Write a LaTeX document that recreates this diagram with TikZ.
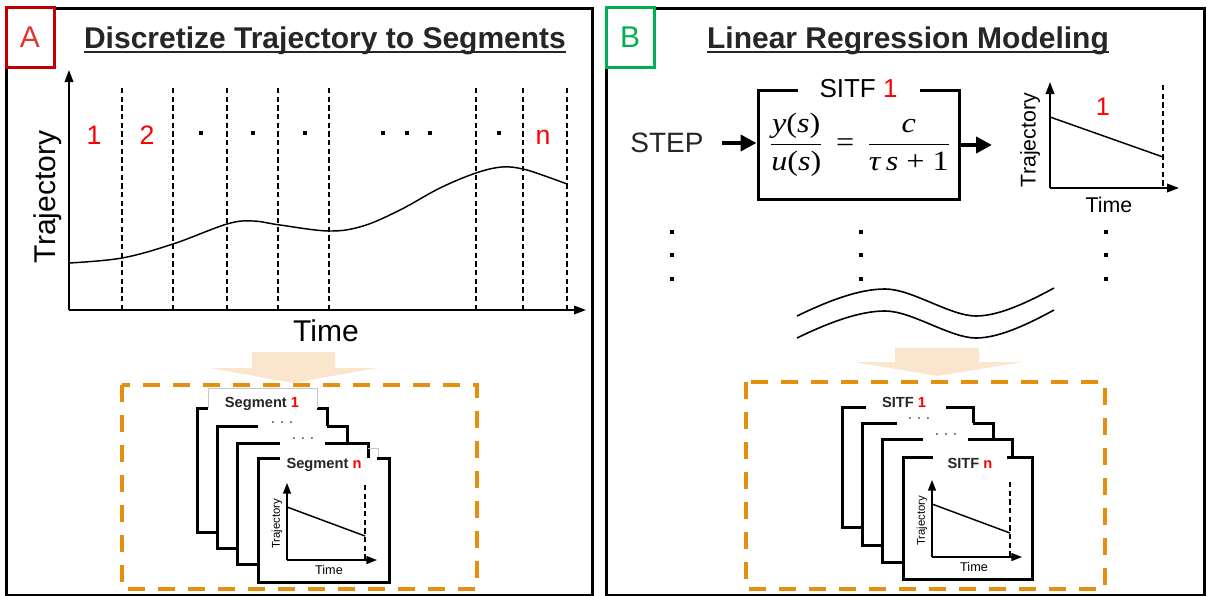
\documentclass[tikz,border=0pt]{standalone}
\usepackage{fontspec}
\usepackage{graphicx}
\setmainfont{Liberation Sans}
\newfontfamily\eqfont{Liberation Serif}
\usetikzlibrary{arrows.meta}

\definecolor{titlegray}{RGB}{38,38,38}
\definecolor{tagred}{RGB}{192,0,0}
\definecolor{tagredtext}{RGB}{222,55,55}
\definecolor{numred}{RGB}{255,0,0}
\definecolor{taggreen}{RGB}{0,176,80}
\definecolor{peach}{RGB}{252,229,205}
\definecolor{dashorange}{RGB}{230,143,15}

\newcommand\fsz[1]{\fontsize{#1}{#1}\selectfont}
% italic variable in the serif equation face
\newcommand\ev[1]{{\itshape #1}}
% white card with a thick border, open between #5 and #6 on its top edge
\newcommand\stackcard[6]{%
  \fill[white] (#1,#2) rectangle (#3,#4);
  \draw[cardedge] (#6,#2) -- (#3,#2) -- (#3,#4) -- (#1,#4) -- (#1,#2) -- (#5,#2);}
% small square dot
\newcommand\sqdot[2]{\fill (#1,#2) ++(-2,-2) rectangle ++(4,4);}
% small trajectory plot drawn inside the front card; #1 prefix, #2 origin
\newcommand\minichart[2]{%
  \begin{scope}[shift={#2}]
    \coordinate (#1o) at (0,0);
    \draw[minaxis] (#1o) -- (0,-77);
    \draw[minaxis] (#1o) -- (90,0);
    \draw[segline] (78,-75) -- (78,0);
    \draw[trendline] (0,-53) -- (78,-24);
    \node[font=\fsz{8.5pt}, rotate=90, inner sep=0pt] (#1traj) at (-10,-36) {Trajectory};
    \node[font=\fsz{9.5pt}, inner sep=0pt] (#1time) at (42,10) {Time};
  \end{scope}}

\begin{document}
\begin{tikzpicture}[x=0.75pt, y=-0.75pt,
  panel/.style={draw=black, line width=2.25pt},
  tagbox/.style={draw, line width=2.25pt, fill=white, minimum width=36pt,
    minimum height=45pt, inner sep=0pt, font=\fsz{22.5pt}},
  title/.style={font=\fsz{22.5pt}\bfseries, text=titlegray, inner sep=0pt, anchor=base},
  underln/.style={line width=1.5pt, draw=titlegray},
  axisarrow/.style={line width=1.1pt, -{Triangle[length=9pt,width=6.5pt]}},
  minaxis/.style={line width=1.1pt, -{Triangle[length=8pt,width=6pt]}},
  segline/.style={line width=0.8pt, dash pattern=on 4pt off 2.5pt},
  trendline/.style={line width=1.1pt},
  segnum/.style={font=\fsz{20pt}, text=numred, anchor=base, inner sep=0pt},
  orangebox/.style={draw=dashorange, line width=3pt, dash pattern=on 12.75pt off 9.75pt},
  cardedge/.style={line width=2.25pt},
  cardlabel/.style={font=\fsz{11pt}\bfseries, text=titlegray, inner sep=0pt},
  cardgap/.style={font=\fsz{11pt}, text=titlegray, inner sep=0pt},
  thickarrow/.style={line width=3.3pt, -{Triangle[length=12pt,width=12pt]}},
]
\useasboundingbox (0,0) rectangle (1207,596);

% ---------- panel frames ----------
\draw[panel] (6,8) rectangle (592,595);
\draw[panel] (606,8) rectangle (1204,595);
\node[tagbox, draw=tagred, text=tagredtext] (tagA) at (30,37) {A};
\node[tagbox, draw=taggreen, text=taggreen] (tagB) at (630,37) {B};

% ---------- titles ----------
\node[title] (titleA) at (325,48) {Discretize Trajectory to Segments};
\draw[underln] ([yshift=-3pt]titleA.base west) -- ([yshift=-3pt]titleA.base east);
\node[title] (titleB) at (908,48) {Linear Regression Modeling};
\draw[underln] ([yshift=-3pt]titleB.base west) -- ([yshift=-3pt]titleB.base east);

% ---------- panel A: trajectory split into segments ----------
\coordinate (oA) at (69,310);
\foreach \x in {122,173,227,278,329,476,523,567}{
  \draw[segline] (\x,88) -- (\x,310);}
\draw[axisarrow] (oA) -- (69,70);
\draw[axisarrow] (oA) -- (586,310);
\draw[trendline] plot[smooth, tension=0.6] coordinates {(69,263) (122,258) (173,244)
  (227,224) (253,221) (280,225) (329,231) (363,226) (400,210) (440,188) (476,173)
  (502,167) (523,169) (545,176) (567,184)};
\node[segnum] (n1) at (94,144) {1};
\node[segnum] (n2) at (147,144) {2};
\node[segnum] (nn) at (543,144) {n};
\foreach \x in {201,253,305,383,407,430,499}{\sqdot{\x}{133}}
\node[font=\fsz{22.5pt}, rotate=90, inner sep=0pt] (trajA) at (48,197) {Trajectory};
\node[font=\fsz{22.5pt}, inner sep=0pt] (timeA) at (326,331) {Time};

\fill[peach] (252,352) -- (335,352) -- (335,368) -- (377,368) -- (293,383)
  -- (210,368) -- (252,368) -- cycle;
\draw[orangebox] (122,385) rectangle (477,589);

\stackcard{197}{408}{327}{532}{208}{317}
\draw[gray!45, line width=0.6pt] (208,408) -- (208,388) -- (317,388) -- (317,408);
\node[cardlabel] (seg1) at (262,404) {Segment \textcolor{numred}{1}};
\stackcard{217}{426}{347}{548}{258}{327}
\node[cardgap] (segdotsA) at (282,424) {· · ·};
\stackcard{237}{443}{368}{564}{280}{325}
\node[cardgap] (segdotsB) at (303,440) {· · ·};
\draw[gray!45, line width=0.6pt] (368,448) -- (378,448) -- (378,458);
\stackcard{258}{458}{389}{582}{280}{377}
\node[cardlabel] (segn) at (324,465) {Segment \textcolor{numred}{n}};
\minichart{ca}{(287,560)}

% ---------- panel B: one first-order model per segment ----------
\node[font=\fsz{21pt}, text=titlegray, inner sep=0pt] (step) at (667,143) {STEP};
\node[draw, line width=2.25pt, minimum width=150.75pt, minimum height=81.75pt,
  inner sep=0pt] (sitf) at (858.5,144.5) {};
\node[fill=white, minimum width=91.5pt, inner ysep=1pt, inner xsep=0pt,
  font=\fsz{19.5pt}] (sitflabel) at (sitf.north) {SITF \textcolor{numred}{1}};
\node[font=\fsz{21pt}\eqfont, inner sep=0pt] (tf) at (860,145)
  {\scalebox{1.15}[1]{$\displaystyle\frac{\hbox{\ev{y}(\ev{s})}}{\hbox{\ev{u}(\ev{s})}}
   \hbox{\hspace{0.4em}=\hspace{0.4em}}
   \frac{\hbox{\ev{c}}}{\hbox{\ev{τ}\,\ev{s} + 1}}$}};
\draw[thickarrow, shorten <=13.5pt] (step.east) -- (step.east -| sitf.west);
\coordinate (outend) at (992,145);
\draw[thickarrow] (sitf.east |- outend) -- (outend);

% response of the first segment model
\coordinate (oB) at (1050,188);
\draw[segline] (1163,85) -- (1163,188);
\draw[axisarrow] (oB) -- (1050,82);
\draw[axisarrow] (oB) -- (1179,188);
\draw[trendline] (1050,117) -- (1163,157);
\node[font=\fsz{19pt}, text=numred, inner sep=0pt] (resp1) at (1103,107) {1};
\node[font=\fsz{16pt}, rotate=90, inner sep=0pt] (trajB) at (1030,140) {Trajectory};
\node[font=\fsz{16pt}, inner sep=0pt] (timeB) at (1109,205) {Time};

% vertical ellipses
\foreach \x in {672,861,1106}{
  \foreach \y in {232,255,279}{\sqdot{\x}{\y}}}

% break marks
\foreach \d in {0,22}{
  \draw[line width=1.2pt] (797,316+\d) .. controls (830,300+\d) and (860,289+\d) .. (885,289+\d)
    .. controls (912,289+\d) and (950,316+\d) .. (976,316+\d)
    .. controls (1000,316+\d) and (1030,301+\d) .. (1054,288+\d);}

\fill[peach] (895,348) -- (979,348) -- (979,362) -- (1022,362) -- (938,376)
  -- (854,362) -- (895,362) -- cycle;
\draw[orangebox] (746,382) rectangle (1105,589);

\stackcard{842}{407}{973}{527}{866}{946}
\node[cardlabel] (sitf1) at (904,402) {SITF \textcolor{numred}{1}};
\stackcard{862}{423}{993}{545}{897}{973}
\node[cardgap] (sitfdotsA) at (919,420) {· · ·};
\stackcard{882}{439}{1012}{562}{923}{968}
\node[cardgap] (sitfdotsB) at (946,436) {· · ·};
\stackcard{903}{457}{1032}{579}{933}{1007}
\node[cardlabel] (sitfn) at (970,463) {SITF \textcolor{numred}{n}};
\minichart{cb}{(932,557)}
\end{tikzpicture}
\end{document}
